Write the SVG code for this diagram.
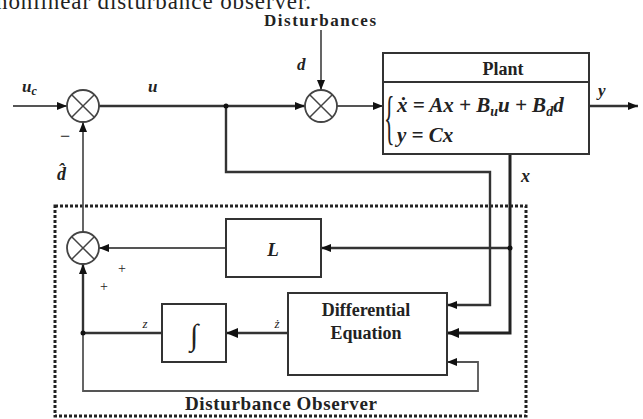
<svg xmlns="http://www.w3.org/2000/svg" width="643" height="419" viewBox="0 0 643 419">
<defs>
<marker id="ah" viewBox="0 0 10 8" refX="10" refY="4" markerWidth="10" markerHeight="8" markerUnits="userSpaceOnUse" orient="auto">
<path d="M0,0 L10,4 L0,8 z" fill="#111"/>
</marker>
<marker id="ahb" viewBox="0 0 12 10" refX="12" refY="5" markerWidth="12" markerHeight="10" markerUnits="userSpaceOnUse" orient="auto">
<path d="M0,0 L12,5 L0,10 z" fill="#111"/>
</marker>
</defs>
<style>
.blk{fill:#fff;stroke:#333;stroke-width:2}
.sum{fill:#fff;stroke:#444;stroke-width:1.8}
.x{stroke:#444;stroke-width:1.5}
.ln{fill:none;stroke:#555;stroke-width:1.8}
.thk{fill:none;stroke:#222;stroke-width:3}
.med{fill:none;stroke:#333;stroke-width:2.4}
.t{font-family:"Liberation Serif","DejaVu Serif",serif;fill:#222}
.i{font-family:"Liberation Serif","DejaVu Serif",serif;font-style:italic;fill:#222}
.dot{fill:#111}
</style>
<rect width="643" height="419" fill="#fff"/>
<text class="t" x="-4" y="9" font-size="23" textLength="315" fill="#000">nonlinear disturbance observer.</text>
<text class="t" x="320" y="26" font-size="17" font-weight="bold" text-anchor="middle" textLength="112" fill="#333">Disturbances</text>

<g id="observer">
<rect x="55" y="206" width="471" height="210" fill="none" stroke="#222" stroke-width="3" stroke-dasharray="3,2"/>
<text class="t" x="281" y="410" font-size="19" font-weight="bold" text-anchor="middle" textLength="192" fill="#333">Disturbance Observer</text>
</g>

<g id="connectors">
<line class="ln" x1="13" y1="106" x2="67" y2="106" marker-end="url(#ah)"/>
<line class="med" x1="99" y1="106" x2="305" y2="106" marker-end="url(#ah)"/>
<line class="ln" x1="321" y1="30" x2="321" y2="90" marker-end="url(#ah)"/>
<line class="ln" x1="337" y1="106" x2="383" y2="106" marker-end="url(#ah)"/>
<line class="med" x1="589" y1="106" x2="638" y2="106" marker-end="url(#ah)"/>
<polyline class="med" points="226,106 226,172 490,172 490,305 447,305" marker-end="url(#ah)"/>
<polyline class="thk" points="510,154 510,333 447,333" marker-end="url(#ahb)"/>
<line class="med" x1="510" y1="248" x2="321" y2="248" marker-end="url(#ah)"/>
<line class="ln" x1="226" y1="248" x2="99" y2="248" marker-end="url(#ah)"/>
<line class="ln" x1="83" y1="232" x2="83" y2="122" marker-end="url(#ah)"/>
<line class="med" x1="288" y1="333" x2="226" y2="333" marker-end="url(#ahb)"/>
<line class="med" x1="162" y1="333" x2="83" y2="333"/>
<line class="med" x1="83" y1="333" x2="83" y2="264" marker-end="url(#ah)"/>
<polyline class="ln" points="83,333 83,391 478,391 478,362 447,362" marker-end="url(#ah)"/>
<circle class="dot" cx="226" cy="106" r="2.5"/>
<circle class="dot" cx="510" cy="248" r="2.5"/>
<circle class="dot" cx="83" cy="333" r="2.5"/>
</g>

<g id="sum1">
<circle class="sum" cx="83" cy="106" r="16"/>
<line class="x" x1="71.7" y1="94.7" x2="94.3" y2="117.3"/>
<line class="x" x1="94.3" y1="94.7" x2="71.7" y2="117.3"/>
</g>
<g id="sum2">
<circle class="sum" cx="321" cy="106" r="16"/>
<line class="x" x1="309.7" y1="94.7" x2="332.3" y2="117.3"/>
<line class="x" x1="332.3" y1="94.7" x2="309.7" y2="117.3"/>
</g>
<g id="sum3">
<circle class="sum" cx="83" cy="248" r="16"/>
<line class="x" x1="71.7" y1="236.7" x2="94.3" y2="259.3"/>
<line class="x" x1="94.3" y1="236.7" x2="71.7" y2="259.3"/>
</g>

<g id="plant">
<rect class="blk" x="383" y="53" width="206" height="101"/>
<line x1="383" y1="82" x2="589" y2="82" stroke="#333" stroke-width="2"/>
<text class="t" x="503" y="75" font-size="18" font-weight="bold" text-anchor="middle" fill="#333">Plant</text>
<text class="t" x="384" y="0" font-size="22" transform="translate(0,137) scale(1,2.7)">{</text>
<text class="i" x="397" y="112" font-size="21" font-weight="bold">ẋ = Ax + B<tspan font-size="14" dy="4">u</tspan><tspan dy="-4">u + B</tspan><tspan font-size="14" dy="4">d</tspan><tspan dy="-4">d</tspan></text>
<text class="i" x="397" y="142" font-size="21" font-weight="bold">y = Cx</text>
</g>

<g id="L">
<rect class="blk" x="226" y="219" width="95" height="58"/>
<text class="i" x="273" y="256" font-size="19" font-weight="bold" text-anchor="middle">L</text>
</g>

<g id="diffeq">
<rect class="blk" x="288" y="293" width="159" height="82"/>
<text class="t" x="366" y="316" font-size="18" font-weight="bold" text-anchor="middle" fill="#333">Differential</text>
<text class="t" x="366" y="339" font-size="18" font-weight="bold" text-anchor="middle" fill="#333">Equation</text>
</g>

<g id="integrator">
<rect class="blk" x="162" y="304" width="64" height="58"/>
<text class="i" x="194" y="345" font-size="30" text-anchor="middle">∫</text>
</g>

<g id="labels">
<text class="i" x="22" y="92" font-size="17" font-weight="bold">u<tspan font-size="12" dy="3">c</tspan></text>
<text class="i" x="148" y="92" font-size="17" font-weight="bold">u</text>
<text class="i" x="297" y="70" font-size="17" font-weight="bold">d</text>
<text class="i" x="598" y="96" font-size="17" font-weight="bold">y</text>
<text class="i" x="521" y="182" font-size="18" font-weight="bold">x</text>
<text class="t" x="65" y="142" font-size="18" text-anchor="middle">−</text>
<text class="i" x="57" y="180" font-size="18" font-weight="bold">d̂</text>
<text class="t" x="122" y="273" font-size="14" text-anchor="middle">+</text>
<text class="t" x="104" y="291" font-size="14" text-anchor="middle">+</text>
<text class="i" x="145" y="328" font-size="13" text-anchor="middle">z</text>
<text class="i" x="277" y="328" font-size="13" text-anchor="middle">ż</text>
</g>
</svg>
